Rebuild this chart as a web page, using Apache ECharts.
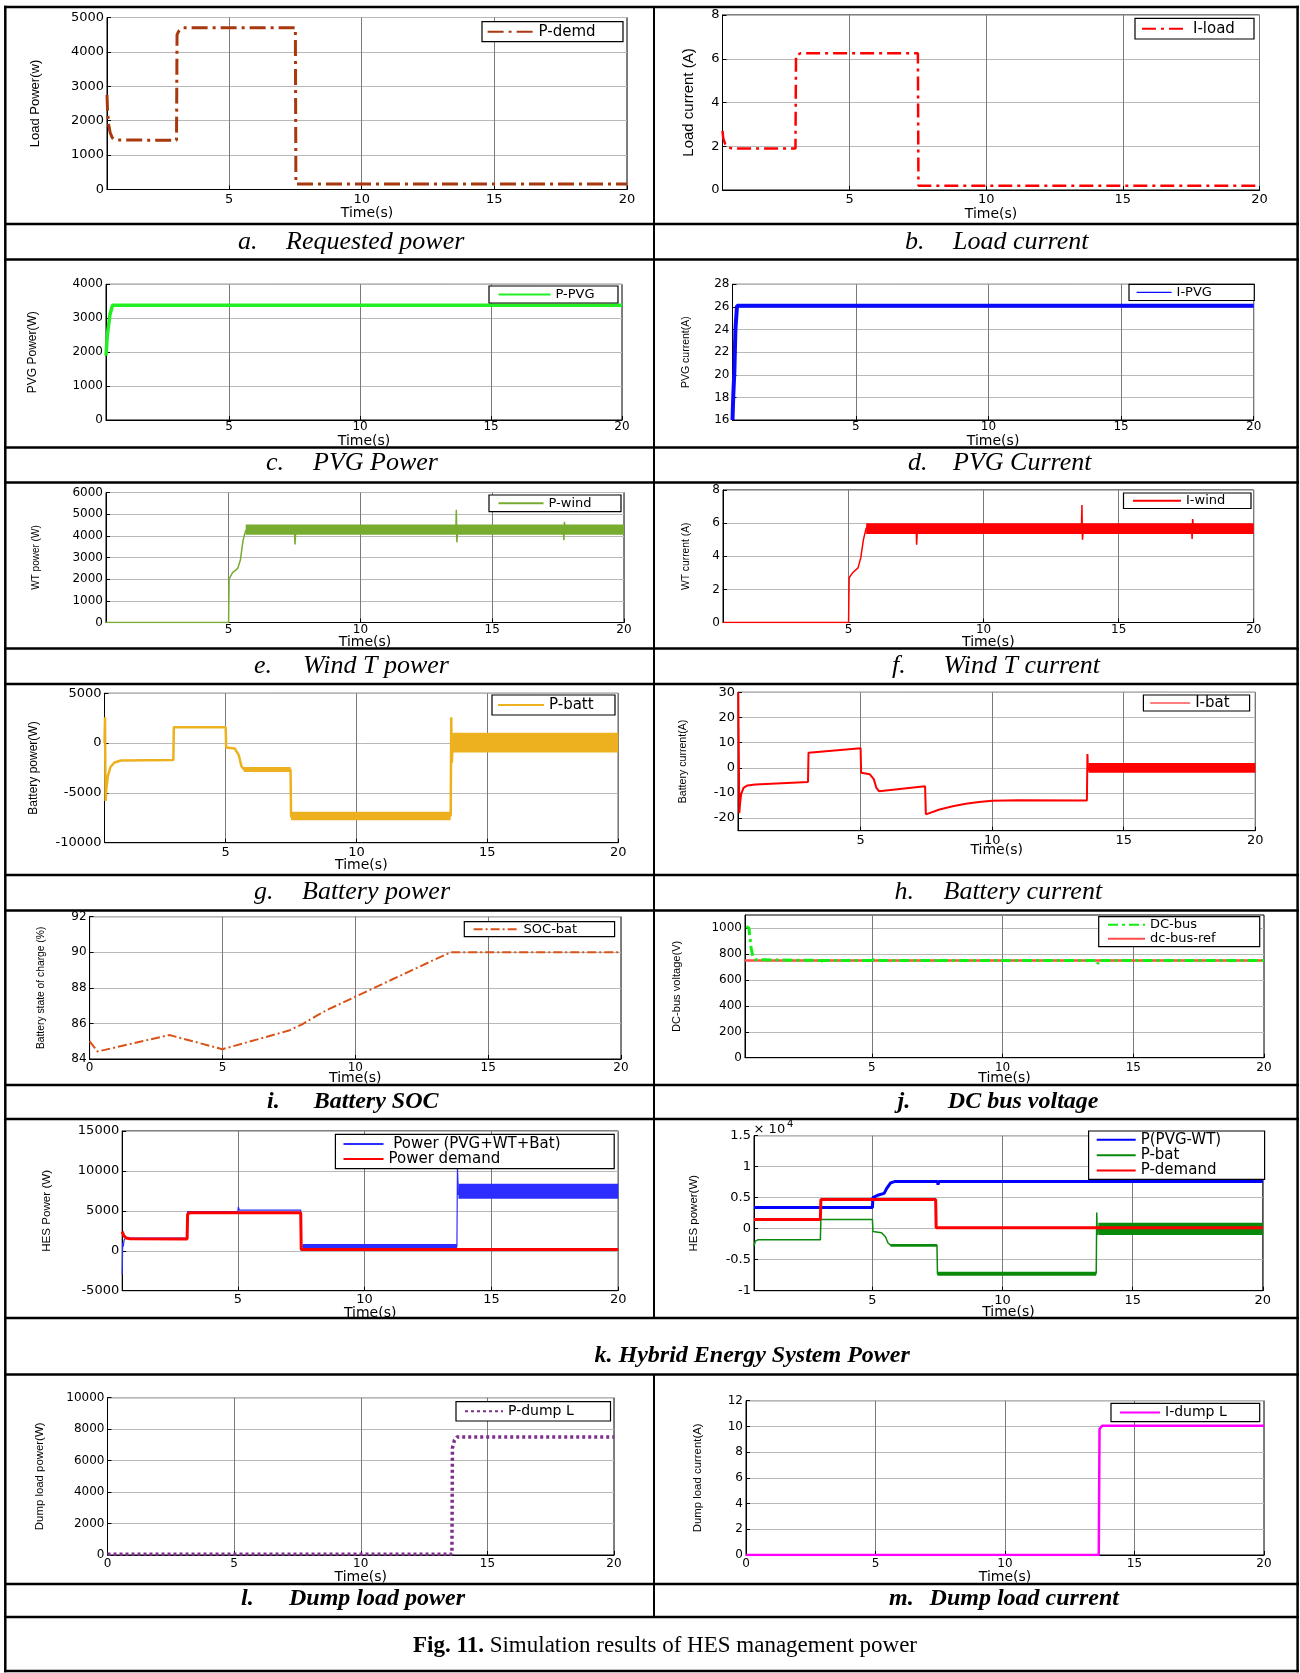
<!DOCTYPE html>
<html><head><meta charset="utf-8">
<script src="https://cdn.jsdelivr.net/npm/echarts@6/dist/echarts.min.js"></script>
<style>html,body{margin:0;padding:0;background:#fff}#c{width:1300px;height:1673px}</style>
</head><body><div id="c"></div><script>
// ---------------- DATA ----------------
const X_TICKS = [5, 10, 15, 20];
const X_TICKS0 = [0, 5, 10, 15, 20];
const TIME_NAME = 'Time(s)';

// a. requested power
const aT = [0.4, 0.42, 0.46, 0.52, 0.6, 0.75, 3.02, 3.04, 3.1, 3.25, 7.5, 7.52, 20];
const aV = [2750, 2300, 1900, 1650, 1500, 1440, 1430, 4500, 4600, 4700, 4700, 160, 160];
const aYT = [0, 1000, 2000, 3000, 4000, 5000];
// b. load current
const bT = [0.35, 0.38, 0.45, 0.55, 0.7, 3.02, 3.04, 3.2, 7.5, 7.52, 20];
const bV = [2.7, 2.35, 2.1, 1.95, 1.9, 1.9, 6.15, 6.25, 6.25, 0.2, 0.2];
const bYT = [0, 2, 4, 6, 8];
// c. PVG power
const cT = [0.3, 0.35, 0.45, 0.55, 20];
const cV = [1900, 2500, 3100, 3380, 3380];
const cYT = [0, 1000, 2000, 3000, 4000];
// d. PVG current
const dT = [0.35, 0.38, 0.42, 0.46, 0.52, 20];
const dV = [16, 18.2, 20.3, 24, 26.1, 26.1];
const dYT = [16, 18, 20, 22, 24, 26, 28];
// e. wind power
const eT = [0.35, 5.0, 5.02, 5.15, 5.35, 5.45, 5.55, 5.65, 7.5, 7.52, 7.55, 13.62, 13.64, 13.66, 13.69, 17.7, 17.72, 17.74, 17.77, 20];
const eV = [0, 0, 2000, 2300, 2500, 2900, 3800, 4250, 4250, 3600, 4250, 4250, 5200, 3700, 4250, 4250, 3800, 4650, 4250, 4250];
const eBand = [[5.65, 20, 4050, 4520]];
const eYT = [0, 1000, 2000, 3000, 4000, 5000, 6000];
// f. wind current
const fT = [0.35, 5.0, 5.02, 5.15, 5.35, 5.45, 5.55, 5.65, 7.5, 7.52, 7.55, 13.62, 13.64, 13.66, 13.69, 17.7, 17.72, 17.74, 17.77, 20];
const fV = [0, 0, 2.7, 3.0, 3.3, 3.9, 5.0, 5.7, 5.7, 4.7, 5.7, 5.7, 7.1, 5.0, 5.7, 5.7, 5.05, 6.25, 5.7, 5.7];
const fBand = [[5.65, 20, 5.35, 6.0]];
const fYT = [0, 2, 4, 6, 8];
// g. battery power
const gT = [0.37, 0.39, 0.41, 0.44, 0.5, 0.6, 0.75, 1.0, 3.0, 3.02, 5.0, 5.02, 5.35, 5.5, 5.6, 5.7, 7.48, 7.5, 7.56, 13.6, 13.62, 13.64, 13.68, 20];
const gV = [0, 2600, -5800, -4600, -3300, -2400, -1950, -1750, -1700, 1600, 1600, -450, -550, -1200, -2300, -2650, -2650, -7400, -7300, -7300, 2600, -2000, 100, 100];
const gBand = [[5.7, 7.48, -2900, -2400], [7.5, 13.6, -7750, -6900], [13.66, 20, -950, 1050]];
const gYT = [-10000, -5000, 0, 5000];
// h. battery current
const hT = [0.35, 0.37, 0.39, 0.42, 0.46, 0.55, 0.7, 1.0, 3.0, 3.02, 5.0, 5.02, 5.35, 5.5, 5.6, 5.7, 7.45, 7.48, 7.55, 8.0, 8.5, 9.0, 9.5, 10.0, 11.0, 13.6, 13.62, 13.64, 13.68, 20];
const hV = [30, 30, -18, -14, -10.5, -8, -7, -6.6, -5.6, 6.0, 7.8, -2.0, -2.6, -4.5, -8, -9.3, -7.3, -18.5, -18, -16.6, -15.3, -14.3, -13.6, -13.1, -12.9, -13, 5.5, -1, 0, 0];
const hBand = [[13.66, 20, -2.0, 1.9]];
const hYT = [-20, -10, 0, 10, 20, 30];
// i. battery SOC
const iT = [0, 0.3, 3.0, 5.0, 7.5, 8.0, 8.5, 9.0, 10.0, 11.0, 12.0, 13.0, 13.6, 20];
const iV = [85.0, 84.42, 85.35, 84.55, 85.6, 85.95, 86.4, 86.8, 87.5, 88.2, 88.9, 89.6, 90.0, 90.0];
const iYT = [84, 86, 88, 90, 92];
// j. DC bus voltage
const jT = [0.2, 0.3, 0.38, 0.45, 0.55, 3.0, 3.03, 3.08, 5.0, 5.02, 5.06, 7.5, 7.52, 7.56, 13.62, 13.65, 13.7, 20];
const jV = [1010, 1000, 850, 780, 755, 750, 725, 750, 750, 772, 750, 750, 768, 750, 750, 722, 750, 750];
const jRefT = [0.15, 20];
const jRefV = [750, 750];
const jYT = [0, 200, 400, 600, 800, 1000];
// k. hybrid energy system power (left)
const kaT = [0.44, 0.46, 0.48, 0.52, 0.6, 3.0, 3.02, 3.05, 5.0, 5.02, 5.06, 7.48, 7.5, 7.53, 7.56, 13.64, 13.66, 13.7, 13.75, 20];
const kaV = [-3000, 1000, 500, 1400, 1600, 1600, 4900, 4800, 4900, 5500, 5100, 5100, 0, 600, 500, 500, 10500, 7000, 7400, 7400];
const kaBand = [[7.56, 13.64, 250, 850], [13.7, 20, 6500, 8400]];
const kbT = [0.44, 0.5, 0.6, 0.75, 3.0, 3.02, 3.1, 7.48, 7.5, 20];
const kbV = [2400, 1900, 1600, 1500, 1480, 4600, 4750, 4750, 150, 150];
const kLYT = [-5000, 0, 5000, 10000, 15000];
// k. (right)
const kcT = [0.45, 5.0, 5.02, 5.2, 5.45, 5.55, 5.7, 5.85, 7.5, 7.52, 7.55, 20];
const kcV = [3400, 3400, 5000, 5400, 5700, 6500, 7400, 7600, 7600, 7100, 7600, 7600];
const kdT = [0.45, 0.5, 0.6, 3.0, 3.02, 5.0, 5.02, 5.35, 5.5, 5.6, 5.7, 7.48, 7.5, 7.55, 13.6, 13.62, 13.64, 13.68, 20];
const kdV = [-2800, -2000, -1800, -1800, 1500, 1500, -450, -650, -1300, -2300, -2650, -2650, -7300, -7400, -7200, 2600, -1000, 0, 0];
const kdBand = [[5.7, 7.48, -2900, -2450], [7.5, 13.6, -7600, -6950], [13.68, 20, -1000, 950]];
const keT = [0.45, 3.0, 3.02, 7.43, 7.45, 20];
const keV = [1500, 1500, 4700, 4700, 150, 150];
const kRYT = [-10000, -5000, 0, 5000, 10000, 15000];
// l. dump load power
const lT = [0, 13.6, 13.62, 13.7, 13.8, 20];
const lV = [50, 50, 6800, 7300, 7500, 7500];
const lYT = [0, 2000, 4000, 6000, 8000, 10000];
// m. dump load current
const mT = [0, 13.62, 13.65, 13.75, 20];
const mV = [0, 0, 9.8, 10.05, 10.05];
const mYT = [0, 2, 4, 6, 8, 10, 12];

// ---------------- BUILD ----------------
function pts(T, V) { return T.map((t, i) => [t, V[i]]); }
function plain(v) { return String(v); }

const option = {
  animation: false, backgroundColor: '#ffffff',
  textStyle: { fontFamily: 'DejaVu Sans' },
  grid: [], xAxis: [], yAxis: [], series: [], legend: [], graphic: { elements: [] }
};

function panel(c) {
  const gi = option.grid.length;
  const [l, t, r, b] = c.box;
  const tf = c.tf || 13;
  option.grid.push({ left: l, top: t, width: r - l, height: b - t, show: true, borderColor: '#000', borderWidth: 1,
    backgroundColor: 'transparent', containLabel: false, outerBoundsMode: 'none' });
  option.xAxis.push({
    type: 'value', gridIndex: gi, min: c.xr[0], max: 20,
    name: TIME_NAME, nameLocation: 'middle', nameGap: c.xn - 7, nameMoveOverlap: false,
    nameTextStyle: { fontFamily: 'DejaVu Sans', fontSize: 14, color: '#000' },
    axisLine: { show: true, onZero: false, lineStyle: { color: '#000', width: 1 } },
    axisTick: { show: true, inside: true, length: 4, customValues: c.xt, lineStyle: { color: '#000', width: 1 } },
    axisLabel: { show: true, customValues: c.xt, margin: c.xl - tf / 2, fontFamily: 'DejaVu Sans', fontSize: tf, color: '#000', formatter: plain },
    splitLine: { show: true, lineStyle: { color: '#7a7a7a', width: 1 } }
  });
  option.yAxis.push({
    type: 'value', gridIndex: gi, min: c.yr[0], max: c.yr[1],
    name: c.yname, nameLocation: 'middle', nameGap: c.yd - c.ys / 2, nameMoveOverlap: false,
    nameTextStyle: { fontFamily: 'Liberation Sans', fontSize: c.ys, color: '#000' },
    axisLine: { show: true, onZero: false, lineStyle: { color: '#000', width: 1 } },
    axisTick: { show: true, inside: true, length: 4, customValues: c.yt, lineStyle: { color: '#000', width: 1 } },
    axisLabel: { show: true, customValues: c.yt, margin: 3, fontFamily: 'DejaVu Sans', fontSize: tf, color: '#000', formatter: c.yfmt || plain },
    splitLine: { show: true, lineStyle: { color: '#b8b8b8', width: 1 } }
  });
  (c.bands || []).forEach((bd, k) => {
    option.series.push({
      type: 'custom', name: c.id + '-band' + k, xAxisIndex: gi, yAxisIndex: gi, data: bd.data, silent: true, z: 2,
      encode: { x: [0, 1], y: [2, 3] }, clip: true,
      renderItem: function (params, api) {
        const p0 = api.coord([api.value(0), api.value(3)]);
        const p1 = api.coord([api.value(1), api.value(2)]);
        return { type: 'rect', shape: { x: p0[0], y: p0[1], width: p1[0] - p0[0], height: p1[1] - p0[1] }, style: { fill: bd.color } };
      }
    });
  });
  c.lines.forEach(ln => {
    option.series.push({
      type: 'line', name: ln.name, xAxisIndex: gi, yAxisIndex: gi, data: pts(ln.T, ln.V),
      symbol: 'none', showSymbol: false, clip: true, z: ln.z || 2, silent: true,
      itemStyle: { color: ln.color },
      lineStyle: { color: ln.color, width: ln.w, type: ln.dash || 'solid' }
    });
  });
  const L = c.legend;
  const n = L.names.length;
  const pv = Math.max(0, ((L.y1 - L.y0) - n * L.lh) / 2);
  const pl = L.ix - L.x0, pr = 3;
  const tw = (L.x1 - L.x0) - pl - L.iw - 5 - pr;
  const lg = {
    show: true, orient: 'vertical', left: L.x0, top: L.y0, padding: [pv, pr, pv, pl], itemGap: 0,
    itemWidth: L.iw, itemHeight: L.lh, data: L.names, selectedMode: false,
    backgroundColor: '#fff', borderColor: '#000', borderWidth: 1.2, borderRadius: 0,
    textStyle: { fontFamily: 'DejaVu Sans', fontSize: L.fs, color: '#000', width: tw, lineHeight: L.lh, overflow: 'none' },
    itemStyle: { opacity: 0 }
  };
  if (L.lw) lg.lineStyle = { width: L.lw };
  option.legend.push(lg);
}

panel({ id: 'a', box: [107, 17.5, 627, 189.5], xr: [0.4], xt: X_TICKS, yr: [0, 5000], yt: aYT,
  yname: 'Load Power(w)', ys: 13, yd: 72, xl: 10, xn: 24,
  lines: [{ name: 'P-demd', T: aT, V: aV, color: '#A8390E', w: 3, dash: [16, 5, 3, 5] }],
  legend: { x0: 482, y0: 21.7, x1: 622, y1: 41.7, ix: 486.6, iw: 46, lh: 15, fs: 15, names: ['P-demd'] } });

panel({ id: 'b', box: [722.5, 15, 1259.5, 190], xr: [0.35], xt: X_TICKS, yr: [0, 8], yt: bYT,
  yname: 'Load current (A)', ys: 15, yd: 34, xl: 10, xn: 24,
  lines: [{ name: 'I-load', T: bT, V: bV, color: '#FF0000', w: 2.5, dash: [14, 5, 3, 5] }],
  legend: { x0: 1135, y0: 18.3, x1: 1253, y1: 39, ix: 1141, iw: 46, lh: 15, fs: 15, names: ['I-load'] } });

panel({ id: 'c', box: [106, 284.3, 622, 420], xr: [0.3], xt: X_TICKS, yr: [0, 4000], yt: cYT, tf: 12,
  yname: 'PVG Power(W)', ys: 12, yd: 73, xl: 7, xn: 21,
  lines: [{ name: 'P-PVG', T: cT, V: cV, color: '#22EE22', w: 3.5 }],
  legend: { x0: 489, y0: 286, x1: 617, y1: 303, ix: 497.5, iw: 52, lh: 13, fs: 13, names: ['P-PVG'] } });

panel({ id: 'd', box: [732.5, 284.3, 1253.7, 420], xr: [0.35], xt: X_TICKS, yr: [16, 28], yt: dYT, tf: 12,
  yname: 'PVG current(A)', ys: 10.5, yd: 46, xl: 7, xn: 21,
  lines: [{ name: 'I-PVG', T: dT, V: dV, color: '#0A0AFF', w: 4 }],
  legend: { x0: 1129, y0: 284.3, x1: 1253.7, y1: 300.5, ix: 1136, iw: 35, lh: 13, fs: 13, lw: 1.2, names: ['I-PVG'] } });

panel({ id: 'e', box: [106, 492.5, 624, 622.5], xr: [0.35], xt: X_TICKS, yr: [0, 6000], yt: eYT, tf: 12,
  yname: 'WT power (W)', ys: 10, yd: 70, xl: 7.5, xn: 20,
  bands: [{ data: eBand, color: '#77AC30' }],
  lines: [{ name: 'P-wind', T: eT, V: eV, color: '#77AC30', w: 1.5 }],
  legend: { x0: 489, y0: 495, x1: 620, y1: 511.7, ix: 497.5, iw: 45, lh: 13, fs: 13, names: ['P-wind'] } });

panel({ id: 'f', box: [723, 490, 1253.7, 622.5], xr: [0.35], xt: X_TICKS, yr: [0, 8], yt: fYT, tf: 12,
  yname: 'WT current (A)', ys: 10.3, yd: 37, xl: 7.5, xn: 20,
  bands: [{ data: fBand, color: '#FF0000' }],
  lines: [{ name: 'I-wind', T: fT, V: fV, color: '#FF0000', w: 1.5 }],
  legend: { x0: 1123.5, y0: 493, x1: 1250, y1: 508.5, ix: 1132, iw: 48, lh: 13, fs: 13, names: ['I-wind'] } });

panel({ id: 'g', box: [104.5, 693.3, 618.2, 842.7], xr: [0.37], xt: X_TICKS, yr: [-10000, 5000], yt: gYT,
  yname: 'Battery power(W)', ys: 12, yd: 70.5, xl: 10, xn: 22.3,
  bands: [{ data: gBand, color: '#EDB120' }],
  lines: [{ name: 'P-batt', T: gT, V: gV, color: '#EDB120', w: 2.5 }],
  legend: { x0: 492, y0: 695, x1: 614, y1: 715, ix: 497, iw: 46, lh: 15, fs: 15, names: ['P-batt'] } });

panel({ id: 'h', box: [738, 692.3, 1255.3, 830.7], xr: [0.34], xt: X_TICKS, yr: [-25, 30], yt: hYT,
  yname: 'Battery current(A)', ys: 10.6, yd: 55, xl: 10, xn: 20,
  bands: [{ data: hBand, color: '#FF0000' }],
  lines: [{ name: 'I-bat', T: hT, V: hV, color: '#FF0000', w: 2 }],
  legend: { x0: 1143.4, y0: 695, x1: 1249, y1: 711, ix: 1149.6, iw: 40, lh: 15, fs: 15, lw: 1.2, names: ['I-bat'] } });

panel({ id: 'i', box: [89.6, 916.7, 621, 1059], xr: [0], xt: X_TICKS0, yr: [84, 92], yt: iYT, tf: 12,
  yname: 'Battery state of charge (%)', ys: 10.3, yd: 49, xl: 8.7, xn: 19.5,
  lines: [{ name: 'SOC-bat', T: iT, V: iV, color: '#D95319', w: 2, dash: [9, 3, 2, 3] }],
  legend: { x0: 464.3, y0: 921.7, x1: 613.6, y1: 936.7, ix: 472.6, iw: 45, lh: 13, fs: 13, names: ['SOC-bat'] } });

panel({ id: 'j', box: [745, 915, 1264, 1057.7], xr: [0.15], xt: X_TICKS, yr: [0, 1100], yt: jYT, tf: 12,
  yname: 'DC-bus voltage(V)', ys: 11.1, yd: 68, xl: 10, xn: 20.5,
  lines: [{ name: 'dc-bus-ref', T: jRefT, V: jRefV, color: '#FF4D4D', w: 2.5, z: 2 },
          { name: 'DC-bus', T: jT, V: jV, color: '#11EE11', w: 3, dash: [10, 4, 3, 4], z: 3 }],
  legend: { x0: 1098.7, y0: 916.7, x1: 1258.7, y1: 946.7, ix: 1107, iw: 37, lh: 14, fs: 13, names: ['DC-bus', 'dc-bus-ref'] } });

panel({ id: 'kL', box: [122.2, 1131, 618.2, 1290.7], xr: [0.44], xt: X_TICKS, yr: [-5000, 15000], yt: kLYT,
  yname: 'HES Power (W)', ys: 11.6, yd: 75, xl: 9.3, xn: 22.6,
  bands: [{ data: kaBand, color: '#2D2DFF' }],
  lines: [{ name: ' Power (PVG+WT+Bat)', T: kaT, V: kaV, color: '#2D2DFF', w: 1.2, z: 2 },
          { name: 'Power demand', T: kbT, V: kbV, color: '#FF0000', w: 3, z: 3 }],
  legend: { x0: 335.4, y0: 1134.3, x1: 613.2, y1: 1166.7, ix: 342.5, iw: 40, lh: 14, fs: 15, names: [' Power (PVG+WT+Bat)', 'Power demand'] } });

panel({ id: 'kR', box: [754, 1135.7, 1262.8, 1290.7], xr: [0.45], xt: X_TICKS, yr: [-10000, 15000], yt: kRYT,
  yfmt: function (v) { return String(Math.round(v / 1000) / 10); },
  yname: 'HES power(W)', ys: 11.5, yd: 60, xl: 10, xn: 21.6,
  bands: [{ data: kdBand, color: '#0A8A0A' }],
  lines: [{ name: 'P(PVG-WT)', T: kcT, V: kcV, color: '#0000FF', w: 3, z: 2 },
          { name: 'P-bat', T: kdT, V: kdV, color: '#0A8A0A', w: 1.5, z: 2 },
          { name: 'P-demand', T: keT, V: keV, color: '#FF0000', w: 3, z: 3 }],
  legend: { x0: 1088.6, y0: 1131, x1: 1263.6, y1: 1179.3, ix: 1095.7, iw: 39, lh: 15.3, fs: 15, names: ['P(PVG-WT)', 'P-bat', 'P-demand'] } });

panel({ id: 'l', box: [107.5, 1397.7, 614, 1555], xr: [0], xt: X_TICKS0, yr: [0, 10000], yt: lYT, tf: 12,
  yname: 'Dump load power(W)', ys: 11.4, yd: 67.5, xl: 9, xn: 22.3,
  lines: [{ name: 'P-dump L', T: lT, V: lV, color: '#7E2F8E', w: 3.5, dash: [3, 3] }],
  legend: { x0: 456, y0: 1401.7, x1: 609.5, y1: 1420, ix: 464, iw: 38, lh: 13, fs: 14, names: ['P-dump L'] } });

panel({ id: 'm', box: [746, 1400.7, 1264, 1555], xr: [0], xt: X_TICKS0, yr: [0, 12], yt: mYT, tf: 12,
  yname: 'Dump load current(A)', ys: 11.4, yd: 48, xl: 9, xn: 22,
  lines: [{ name: 'I-dump L', T: mT, V: mV, color: '#FF00FF', w: 2.5 }],
  legend: { x0: 1111, y0: 1403.3, x1: 1258.7, y1: 1420.7, ix: 1119, iw: 40, lh: 13, fs: 14, names: ['I-dump L'] } });

// ---------------- TABLE + CAPTIONS ----------------
const GE = option.graphic.elements;
function hline(y, x1, x2, w) { GE.push({ type: 'line', z: 100, silent: true, shape: { x1: x1, y1: y, x2: x2, y2: y }, style: { stroke: '#000', lineWidth: w } }); }
function vline(x, y1, y2, w) { GE.push({ type: 'line', z: 100, silent: true, shape: { x1: x, y1: y1, x2: x, y2: y2 }, style: { stroke: '#000', lineWidth: w } }); }
[7, 224, 259.5, 447.5, 482.5, 648.5, 684, 875, 910.5, 1085, 1119, 1318, 1374.5, 1584, 1617, 1671].forEach(y => hline(y, 4, 1299, 2.5));
vline(5.3, 5.8, 1672.2, 2.5);
vline(1297.6, 5.8, 1672.2, 2.5);
vline(654, 7, 1318, 2);
vline(654, 1374.5, 1617, 2);

function text(x, y, s, size, fam, italic, bold, align) {
  GE.push({ type: 'text', z: 101, silent: true, x: x, y: y,
    style: { text: s, fontSize: size, fontFamily: fam, fontStyle: italic ? 'italic' : 'normal', fontWeight: bold ? 'bold' : 'normal',
      fill: '#000', align: align || 'left', verticalAlign: 'middle' } });
}
const captions = [
  ['a.', 'Requested power', 238, 286, 250, false],
  ['b.', 'Load current', 905, 953, 250, false],
  ['c.', 'PVG Power', 266, 313, 471.7, false],
  ['d.', 'PVG Current', 908, 953, 471.7, false],
  ['e.', 'Wind T power', 254, 303, 674, false],
  ['f.', 'Wind T current', 892, 943.5, 674, false],
  ['g.', 'Battery power', 254, 302, 900, false],
  ['h.', 'Battery current', 894.5, 943.5, 900, false],
  ['i.', 'Battery SOC', 267, 313.8, 1109.3, true],
  ['j.', 'DC bus voltage', 897.6, 947.8, 1109.3, true],
  ['l.', 'Dump load power', 241, 289, 1606.7, true],
  ['m.', 'Dump load current', 889, 929.6, 1606.7, true]
];
captions.forEach(c => {
  const fs = c[5] ? 24 : 26;
  text(c[2], c[4] - 0.32 * fs, c[0], fs, 'Liberation Serif', true, c[5]);
  text(c[3], c[4] - 0.32 * fs, c[1], fs, 'Liberation Serif', true, c[5]);
});
text(594.5, 1363.3 - 0.32 * 24, 'k. Hybrid Energy System Power', 24, 'Liberation Serif', true, true);
GE.push({ type: 'text', z: 101, silent: true, x: 413, y: 1653.3 - 0.32 * 23,
  style: { text: '{b|Fig. 11.}{r| Simulation results of HES management power}', verticalAlign: 'middle', align: 'left', fill: '#000',
    rich: { b: { fontFamily: 'Liberation Serif', fontSize: 23, fontWeight: 'bold', fill: '#000' },
            r: { fontFamily: 'Liberation Serif', fontSize: 23, fill: '#000' } } } });
// exponent label of panel k (right)
text(753.6, 1130, '× 10', 13, 'DejaVu Sans', false, false);
text(787, 1124, '4', 10, 'DejaVu Sans', false, false);

const chart = echarts.init(document.getElementById('c'), null, { renderer: 'canvas', width: 1300, height: 1673 });
chart.setOption(option);
</script></body></html>
